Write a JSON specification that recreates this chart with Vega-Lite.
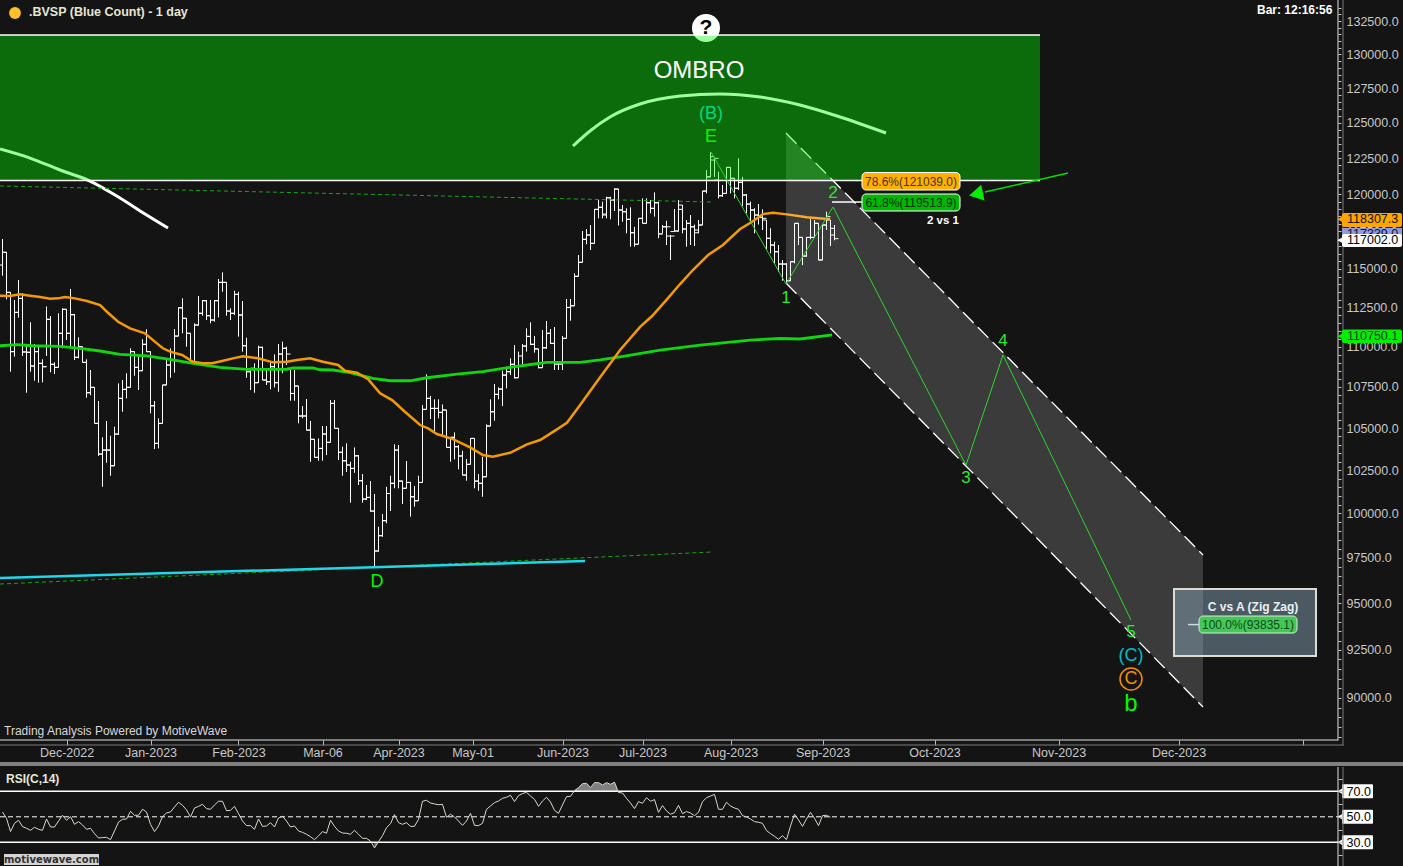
{"$schema":"https://vega.github.io/schema/vega-lite/v6.json","padding":0,"background":"#141414","spacing":0,"config":{"view":{"stroke":null},"font":"Liberation Sans"},
"datasets":{
"bars":[
{"s":0,"o":115256,"h":116980,"l":114554,"c":116095},{"s":1,"o":116100,"h":116100,"l":113020,"c":113470},{"s":2,"o":113470,"h":113470,"l":108440,"c":109690},{"s":3,"o":109690,"h":112975,"l":109370,"c":112180},{"s":4,"o":112180,"h":114270,"l":111840,"c":113080},{"s":5,"o":113080,"h":113410,"l":109420,"c":109670},{"s":6,"o":109670,"h":110100,"l":107145,"c":109650},{"s":7,"o":109650,"h":111545,"l":108440,"c":108790},{"s":8,"o":108790,"h":110170,"l":107880,"c":109690},{"s":9,"o":109690,"h":110100,"l":107760,"c":108960},
{"s":10,"o":108960,"h":109210,"l":107780,"c":108750},{"s":11,"o":108750,"h":112560,"l":109420,"c":111735},{"s":12,"o":111735,"h":111945,"l":108400,"c":108900},{"s":13,"o":108900,"h":109020,"l":108295,"c":108710},{"s":14,"o":108710,"h":112120,"l":108710,"c":110845},{"s":15,"o":110845,"h":112440,"l":109900,"c":112375},{"s":16,"o":112375,"h":112375,"l":110420,"c":110845},{"s":17,"o":110845,"h":113685,"l":109900,"c":112030},{"s":18,"o":112030,"h":112075,"l":109170,"c":109335},{"s":19,"o":109335,"h":110590,"l":109270,"c":110000},
{"s":20,"o":110000,"h":110000,"l":109020,"c":109020},{"s":21,"o":109020,"h":109210,"l":106840,"c":107145},{"s":22,"o":107145,"h":108545,"l":106990,"c":107475},{"s":23,"o":107475,"h":107475,"l":105285,"c":105285},{"s":24,"o":105285,"h":106640,"l":103350,"c":103455},{"s":25,"o":103455,"h":104450,"l":101540,"c":103690},{"s":26,"o":103690,"h":105425,"l":102940,"c":103690},{"s":27,"o":103690,"h":104540,"l":102180,"c":102765},{"s":28,"o":102765,"h":105085,"l":102750,"c":104645},{"s":29,"o":104645,"h":107720,"l":104585,"c":106800},
{"s":30,"o":106800,"h":107925,"l":105985,"c":107350},{"s":31,"o":107350,"h":108340,"l":106800,"c":107475},{"s":32,"o":107475,"h":109900,"l":107475,"c":109690},{"s":33,"o":109690,"h":109690,"l":108190,"c":108710},{"s":34,"o":108710,"h":109540,"l":107310,"c":108500},{"s":35,"o":108500,"h":110465,"l":108500,"c":110150},{"s":36,"o":110150,"h":111100,"l":109690,"c":109690},{"s":37,"o":109690,"h":109690,"l":105890,"c":106350},{"s":38,"o":106350,"h":106640,"l":103750,"c":104090},{"s":39,"o":104090,"h":105590,"l":103790,"c":105285},
{"s":40,"o":105285,"h":107620,"l":105285,"c":107620},{"s":41,"o":107620,"h":109170,"l":107620,"c":108855},{"s":42,"o":108855,"h":109900,"l":108065,"c":109170},{"s":43,"o":109170,"h":111115,"l":108380,"c":110670},{"s":44,"o":110670,"h":112495,"l":110670,"c":112470},{"s":45,"o":112470,"h":113080,"l":110845,"c":111800},{"s":46,"o":111800,"h":111800,"l":110000,"c":110845},{"s":47,"o":110845,"h":110845,"l":109060,"c":109060},{"s":48,"o":109060,"h":111480,"l":109060,"c":111370},{"s":49,"o":111370,"h":113230,"l":111330,"c":112120},
{"s":50,"o":112120,"h":112975,"l":111965,"c":112930},{"s":51,"o":112930,"h":112975,"l":111690,"c":111965},{"s":52,"o":111965,"h":112975,"l":111480,"c":111690},{"s":53,"o":111690,"h":112975,"l":111580,"c":112930},{"s":54,"o":112930,"h":114340,"l":111860,"c":114120},{"s":55,"o":114120,"h":114775,"l":113510,"c":114120},{"s":56,"o":114120,"h":114120,"l":111965,"c":112265},{"s":57,"o":112265,"h":112440,"l":111690,"c":112120},{"s":58,"o":112120,"h":113575,"l":112010,"c":113340},{"s":59,"o":113340,"h":113510,"l":110630,"c":112010},
{"s":60,"o":112010,"h":112910,"l":109690,"c":110060},{"s":61,"o":110060,"h":110565,"l":108065,"c":108440},{"s":62,"o":108440,"h":108650,"l":107310,"c":108650},{"s":63,"o":108650,"h":108960,"l":107145,"c":107760},{"s":64,"o":107760,"h":110060,"l":107760,"c":109960},{"s":65,"o":109960,"h":110000,"l":107925,"c":107925},{"s":66,"o":107925,"h":108650,"l":107620,"c":107820},{"s":67,"o":107820,"h":109060,"l":107350,"c":108750},{"s":68,"o":108750,"h":109520,"l":107475,"c":107760},{"s":69,"o":107760,"h":110170,"l":107205,"c":109540},
{"s":70,"o":109540,"h":110315,"l":108340,"c":109900},{"s":71,"o":109900,"h":110000,"l":108855,"c":109540},{"s":72,"o":108650,"h":108650,"l":106655,"c":107100},{"s":73,"o":107100,"h":108545,"l":106655,"c":107555},{"s":74,"o":107555,"h":107555,"l":105285,"c":105730},{"s":75,"o":105730,"h":106330,"l":105590,"c":105730},{"s":76,"o":105730,"h":106760,"l":104880,"c":104880},{"s":77,"o":104880,"h":105425,"l":103000,"c":104330},{"s":78,"o":104330,"h":104330,"l":103260,"c":103260},{"s":79,"o":103260,"h":104385,"l":103060,"c":103790},
{"s":80,"o":103790,"h":105125,"l":103060,"c":104645},{"s":81,"o":104645,"h":105125,"l":103395,"c":104150},{"s":82,"o":104150,"h":106700,"l":104150,"c":106495},{"s":83,"o":106495,"h":106700,"l":104985,"c":104985},{"s":84,"o":104985,"h":104985,"l":103100,"c":103560},{"s":85,"o":103560,"h":103890,"l":102180,"c":103060},{"s":86,"o":103060,"h":104090,"l":102400,"c":102810},{"s":87,"o":102810,"h":103000,"l":100620,"c":102610},{"s":88,"o":102610,"h":103850,"l":102350,"c":103350},{"s":89,"o":103350,"h":103395,"l":101640,"c":101890},
{"s":90,"o":101890,"h":102280,"l":100620,"c":100830},{"s":91,"o":100830,"h":101640,"l":100770,"c":100925},{"s":92,"o":100925,"h":101870,"l":100100,"c":100140},{"s":93,"o":100140,"h":101120,"l":97000,"c":97880},{"s":94,"o":97880,"h":99245,"l":97840,"c":98740},{"s":95,"o":98740,"h":99970,"l":98680,"c":99590},{"s":96,"o":99590,"h":101540,"l":99440,"c":101150},{"s":97,"o":101150,"h":102180,"l":100140,"c":101740},{"s":98,"o":101740,"h":104030,"l":101450,"c":103690},{"s":99,"o":103690,"h":103990,"l":101450,"c":101870},
{"s":100,"o":101870,"h":101890,"l":100540,"c":101450},{"s":101,"o":101450,"h":103040,"l":101450,"c":101790},{"s":102,"o":101790,"h":101830,"l":99820,"c":100960},{"s":103,"o":100960,"h":101580,"l":100390,"c":100730},{"s":104,"o":100730,"h":102180,"l":100730,"c":101790},{"s":105,"o":101790,"h":106390,"l":101790,"c":106130},{"s":106,"o":106130,"h":108280,"l":106130,"c":106800},{"s":107,"o":106800,"h":106950,"l":105550,"c":106190},{"s":108,"o":106190,"h":106740,"l":104825,"c":106190},{"s":109,"o":106190,"h":106740,"l":105590,"c":105950},
{"s":110,"o":105950,"h":106430,"l":104525,"c":106090},{"s":111,"o":106090,"h":106090,"l":103850,"c":103850},{"s":112,"o":103850,"h":104450,"l":103000,"c":104450},{"s":113,"o":104450,"h":104745,"l":103140,"c":103890},{"s":114,"o":103890,"h":103990,"l":102555,"c":103340},{"s":115,"o":103340,"h":103650,"l":102220,"c":102220},{"s":116,"o":102220,"h":103160,"l":101890,"c":102850},{"s":117,"o":102850,"h":104385,"l":102850,"c":104385},{"s":118,"o":104385,"h":104385,"l":101450,"c":101870},{"s":119,"o":101870,"h":102280,"l":101310,"c":101740},
{"s":120,"o":101740,"h":103300,"l":100960,"c":102120},{"s":121,"o":102120,"h":105225,"l":102120,"c":105125},{"s":122,"o":105125,"h":106740,"l":105125,"c":105985},{"s":123,"o":105985,"h":107680,"l":105440,"c":107045},{"s":124,"o":107045,"h":107475,"l":106740,"c":107370},{"s":125,"o":107370,"h":108500,"l":106330,"c":108230},{"s":126,"o":108230,"h":108750,"l":107410,"c":108440},{"s":127,"o":108440,"h":109270,"l":108230,"c":108900},{"s":128,"o":108900,"h":110100,"l":108020,"c":108065},{"s":129,"o":108065,"h":109690,"l":108090,"c":108820},
{"s":130,"o":109420,"h":110170,"l":108900,"c":110040},{"s":131,"o":110040,"h":111160,"l":109690,"c":110650},{"s":132,"o":110650,"h":111545,"l":110100,"c":110150},{"s":133,"o":110150,"h":110680,"l":109625,"c":109860},{"s":134,"o":109860,"h":109860,"l":108650,"c":108690},{"s":135,"o":108690,"h":111054,"l":108690,"c":109930},{"s":136,"o":109930,"h":111625,"l":109860,"c":110845},{"s":137,"o":110845,"h":111115,"l":110170,"c":110210},{"s":138,"o":110210,"h":111245,"l":108545,"c":108920},{"s":139,"o":108920,"h":109105,"l":108545,"c":108920},
{"s":140,"o":108920,"h":110670,"l":108545,"c":110525},{"s":141,"o":110525,"h":113040,"l":110525,"c":112495},{"s":142,"o":112495,"h":113040,"l":111645,"c":112600},{"s":143,"o":112600,"h":114710,"l":112600,"c":114515},{"s":144,"o":114515,"h":115915,"l":114515,"c":115435},{"s":145,"o":115435,"h":117515,"l":115435,"c":116960},{"s":146,"o":116960,"h":117650,"l":116630,"c":117250},{"s":147,"o":117250,"h":117920,"l":116250,"c":116690},{"s":148,"o":116690,"h":119000,"l":116690,"c":118980},{"s":149,"o":118980,"h":119616,"l":118370,"c":119120},
{"s":150,"o":119120,"h":119500,"l":118370,"c":118660},{"s":151,"o":118595,"h":119840,"l":118370,"c":119770},{"s":152,"o":119770,"h":119840,"l":118305,"c":119616},{"s":153,"o":119616,"h":120420,"l":118870,"c":120370},{"s":154,"o":120370,"h":120370,"l":117885,"c":118936},{"s":155,"o":118936,"h":119275,"l":118140,"c":118820},{"s":156,"o":118820,"h":119050,"l":117360,"c":118305},{"s":157,"o":118305,"h":119120,"l":116470,"c":117400},{"s":158,"o":117400,"h":117800,"l":116470,"c":116630},{"s":159,"o":116630,"h":118370,"l":116630,"c":118370},
{"s":160,"o":118370,"h":119730,"l":118035,"c":118035},{"s":161,"o":118035,"h":119730,"l":118035,"c":119430},{"s":162,"o":119430,"h":119616,"l":118710,"c":119050},{"s":163,"o":119050,"h":120140,"l":118485,"c":119430},{"s":164,"o":119430,"h":119500,"l":117030,"c":117320},{"s":165,"o":117320,"h":117920,"l":117360,"c":117800},{"s":166,"o":117800,"h":118210,"l":116580,"c":117800},{"s":167,"o":117180,"h":117250,"l":115586,"c":117180},{"s":168,"o":117480,"h":119000,"l":117480,"c":117515},{"s":169,"o":117515,"h":119616,"l":117480,"c":119275},
{"s":170,"o":118980,"h":119275,"l":117360,"c":117650},{"s":171,"o":117650,"h":118258,"l":116470,"c":118035},{"s":172,"o":118035,"h":118595,"l":116580,"c":117800},{"s":173,"o":117800,"h":117950,"l":116515,"c":117400},{"s":174,"o":117584,"h":118258,"l":117360,"c":117920},{"s":175,"o":117920,"h":120230,"l":117920,"c":120230},{"s":176,"o":120230,"h":121685,"l":120070,"c":121210},{"s":177,"o":121210,"h":122920,"l":121210,"c":122615},{"s":178,"o":122382,"h":122500,"l":121210,"c":122500},{"s":179,"o":120991,"h":121570,"l":119730,"c":119910},
{"s":180,"o":119910,"h":120645,"l":119840,"c":120070},{"s":181,"o":120070,"h":121870,"l":120070,"c":121870},{"s":182,"o":121870,"h":121870,"l":120070,"c":121110},{"s":183,"o":121110,"h":121110,"l":119730,"c":120420},{"s":184,"o":120420,"h":122500,"l":120302,"c":120830},{"s":185,"o":120830,"h":121210,"l":119205,"c":119960},{"s":186,"o":119960,"h":120030,"l":118710,"c":119340},{"s":187,"o":119340,"h":119500,"l":118035,"c":118936},{"s":188,"o":118936,"h":119050,"l":117360,"c":118595},{"s":189,"o":118595,"h":119340,"l":117950,"c":118440},
{"s":190,"o":118440,"h":118980,"l":117584,"c":118370},{"s":191,"o":118258,"h":118258,"l":116248,"c":117030},{"s":192,"o":117030,"h":117700,"l":116025,"c":116580},{"s":193,"o":116580,"h":116800,"l":115370,"c":116135},{"s":194,"o":116135,"h":116580,"l":114815,"c":115320},{"s":195,"o":115320,"h":115586,"l":114225,"c":115320},{"s":196,"o":115320,"h":115370,"l":114050,"c":114225},{"s":197,"o":114225,"h":115475,"l":114225,"c":115475},{"s":198,"o":115475,"h":118035,"l":115370,"c":118035},{"s":199,"o":118035,"h":118035,"l":116580,"c":117090},
{"s":200,"o":117090,"h":117090,"l":115250,"c":115850},{"s":201,"o":115850,"h":117090,"l":115805,"c":117090},{"s":202,"o":117090,"h":118370,"l":116960,"c":117090},{"s":203,"o":117090,"h":118258,"l":117090,"c":118035},{"s":204,"o":118035,"h":118035,"l":115586,"c":115586},{"s":205,"o":115586,"h":117920,"l":115586,"c":117920},{"s":206,"o":117920,"h":118820,"l":117584,"c":118485},{"s":207,"o":118258,"h":118258,"l":116515,"c":117700},{"s":208,"o":117250,"h":117920,"l":116900,"c":117002}],
"ma50":[{"s":-0.625,"p":113250},{"s":1.9,"p":113230},{"s":4.4,"p":113340},{"s":6.9,"p":113250},{"s":9.4,"p":113170},{"s":11.9,"p":113060},{"s":13.9,"p":113080},{"s":15.6,"p":113170},{"s":18.1,"p":113080},{"s":21.1,"p":112910},{"s":24.4,"p":112650},{"s":26.1,"p":112220},{"s":28.9,"p":111580},{"s":31.9,"p":111160},{"s":35.6,"p":110845},{"s":38.6,"p":110210},{"s":40.1,"p":109900},{"s":41.9,"p":109690},{"s":44.9,"p":109480},{"s":47.6,"p":109060},{"s":50.1,"p":108960},{"s":52.4,"p":108960},{"s":54.9,"p":109105},{"s":57.6,"p":109270},{"s":60.1,"p":109400},{"s":63.9,"p":109270},{"s":67.6,"p":109020},{"s":71.1,"p":109060},{"s":73.6,"p":109170},{"s":76.9,"p":109270},{"s":80.1,"p":109060},{"s":83.9,"p":108855},{"s":85.6,"p":108500},{"s":88.6,"p":108380},{"s":91.4,"p":107970},{"s":94.4,"p":107105},{"s":97.4,"p":106698},{"s":100.6,"p":105985},{"s":104.4,"p":105185},{"s":106.4,"p":104985},{"s":108.6,"p":104645},{"s":112.6,"p":104345},{"s":116.9,"p":103850},{"s":120.1,"p":103395},{"s":122.6,"p":103300},{"s":126.9,"p":103530},{"s":131.1,"p":104030},{"s":134.4,"p":104287},{"s":138.6,"p":104925},{"s":141.1,"p":105320},{"s":144.4,"p":106390},{"s":149.4,"p":108090},{"s":154.4,"p":109790},{"s":159.4,"p":111250},{"s":162.4,"p":111945},{"s":166.1,"p":113020},{"s":169.4,"p":114010},{"s":172.6,"p":114927},{"s":176.4,"p":115915},{"s":180.1,"p":116580},{"s":184.4,"p":117650},{"s":187.4,"p":118140},{"s":190.1,"p":118660},{"s":192.6,"p":118750},{"s":196.1,"p":118640},{"s":201.1,"p":118440},{"s":206.9,"p":118307}],
"ma200":[{"s":-0.625,"p":110060},{"s":3.6,"p":110125},{"s":7.6,"p":110060},{"s":14.4,"p":110020},{"s":19.4,"p":109900},{"s":24.4,"p":109730},{"s":29.4,"p":109520},{"s":36.1,"p":109420},{"s":42.6,"p":109170},{"s":47.6,"p":108960},{"s":54.4,"p":108710},{"s":61.1,"p":108590},{"s":71.1,"p":108590},{"s":72.6,"p":108670},{"s":77.6,"p":108670},{"s":79.4,"p":108560},{"s":82.6,"p":108544},{"s":86.9,"p":108380},{"s":87.6,"p":108340},{"s":92.6,"p":108030},{"s":96.9,"p":107880},{"s":101.9,"p":107880},{"s":106.1,"p":108065},{"s":113.6,"p":108295},{"s":120.1,"p":108440},{"s":125.1,"p":108650},{"s":131.1,"p":108855},{"s":136.1,"p":109020},{"s":144.4,"p":109020},{"s":149.4,"p":109170},{"s":154.4,"p":109360},{"s":164.4,"p":109790},{"s":174.4,"p":110100},{"s":186.9,"p":110420},{"s":194.4,"p":110515},{"s":199.4,"p":110485},{"s":207.4,"p":110750}],
"arcs":[{"a":"top","s":142.625,"p":123365},{"a":"top","s":146.875,"p":124430},{"a":"top","s":151.875,"p":125430},{"a":"top","s":159.375,"p":126360},{"a":"top","s":169.375,"p":126940},{"a":"top","s":179.375,"p":127090},{"a":"top","s":189.375,"p":126870},{"a":"top","s":199.375,"p":126290},{"a":"top","s":209.375,"p":125430},{"a":"top","s":220.875,"p":124285},{"a":"left","s":-0.625,"p":123155},{"a":"left","s":6.875,"p":122520},{"a":"left","s":14.375,"p":121685},{"a":"left","s":21.875,"p":120920},{"a":"left","s":29.375,"p":119755},{"a":"left","s":35.625,"p":118665},{"a":"left","s":41.375,"p":117718}],
"channel":[{"s":195.875,"p":124285,"p2":114076},{"s":300.125,"p":97656,"p2":89530}],
"edges":[{"e":"upper","s":195.875,"p":124285},{"e":"upper","s":300.125,"p":97656},{"e":"lower","s":195.875,"p":114076},{"e":"lower","s":300.125,"p":89530}],
"wave":[{"s":177.125,"p":122945},{"s":195.875,"p":114010},{"s":207.625,"p":119140},{"s":240.875,"p":102805},{"s":250.125,"p":109480},{"s":282.125,"p":94093}],
"trend":[{"t":"upper","s":-0.625,"p":120580},{"t":"upper","s":177.125,"p":119480},{"t":"lower","s":-0.625,"p":96050},{"t":"lower","s":177.125,"p":97820}],
"majors":[{"p":90000},{"p":92500},{"p":95000},{"p":97500},{"p":100000},{"p":102500},{"p":105000},{"p":107500},{"p":110000},{"p":112500},{"p":115000},{"p":117500},{"p":120000},{"p":122500},{"p":125000},{"p":127500},{"p":130000},{"p":132500}]
},
"vconcat":[
{"width":1338,"height":740,
"encoding":{"x":{"field":"s","type":"quantitative","scale":{"domain":[-0.625,333.875],"nice":false,"zero":false},"axis":{"title":null,"grid":false,"domain":false,"values":[16,37,59,80,99,117.5,140,160,182,205,233,264,294,325],"labelExpr":"({'16':'Dec-2022','37':'Jan-2023','59':'Feb-2023','80':'Mar-06','99':'Apr-2023','117.5':'May-01','140':'Jun-2023','160':'Jul-2023','182':'Aug-2023','205':'Sep-2023','233':'Oct-2023','264':'Nov-2023','294':'Dec-2023','325':''})[datum.value]","tickSize":5,"tickColor":"#c0c0c0","labelColor":"#c8c8c8","labelFontSize":12.5,"labelPadding":1,"labelOverlap":false,"labelFlush":false,"labelBound":false}},
"y":{"field":"p","type":"quantitative","scale":{"type":"log","domain":[87860,134100],"nice":false},"axis":{"title":null,"orient":"right","grid":false,"domain":false,"values":[88000,88500,89000,89500,90000,90500,91000,91500,92000,92500,93000,93500,94000,94500,95000,95500,96000,96500,97000,97500,98000,98500,99000,99500,100000,100500,101000,101500,102000,102500,103000,103500,104000,104500,105000,105500,106000,106500,107000,107500,108000,108500,109000,109500,110000,110500,111000,111500,112000,112500,113000,113500,114000,114500,115000,115500,116000,116500,117000,117500,118000,118500,119000,119500,120000,120500,121000,121500,122000,122500,123000,123500,124000,124500,125000,125500,126000,126500,127000,127500,128000,128500,129000,129500,130000,130500,131000,131500,132000,132500,133000,133500],"labelExpr":"datum.value % 2500 == 0 ? format(datum.value,'.1f') : ''","tickSize":3,"tickColor":"#c0c0c0","labelColor":"#c8c8c8","labelFontSize":12.5,"labelPadding":5,"labelOverlap":false,"labelFlush":false,"labelBound":false}}},
"layer":[
{"data":{"values":[{"s":175.875,"p":131970}]},"mark":{"type":"point","shape":"circle","filled":true,"color":"#ffffff","opacity":1,"size":784}},
{"data":{"name":"bars"},"transform":[{"fold":["h"],"as":["k","p"]}],"mark":{"type":"rule","color":"#ffffff","strokeWidth":1},"encoding":{"y2":{"field":"l"}}},
{"data":{"name":"bars"},"transform":[{"fold":["o"],"as":["k","p"]}],"mark":{"type":"tick","orient":"horizontal","color":"#ffffff","opacity":1,"size":4,"thickness":1,"xOffset":-2,"clip":true}},
{"data":{"name":"bars"},"transform":[{"fold":["c"],"as":["k","p"]}],"mark":{"type":"tick","orient":"horizontal","color":"#ffffff","opacity":1,"size":4,"thickness":1,"xOffset":2}},
{"data":{"name":"ma200"},"mark":{"type":"line","color":"#0fd60f","strokeWidth":2.8,"clip":true}},
{"data":{"name":"ma50"},"mark":{"type":"line","color":"#f59a00","strokeWidth":2.5,"clip":true}},
{"data":{"name":"arcs"},"mark":{"type":"line","color":"#ffffff","strokeWidth":3,"interpolate":"monotone","clip":true},"encoding":{"detail":{"field":"a"}}},
{"data":{"name":"trend"},"mark":{"type":"line","color":"#10a810","strokeWidth":1,"strokeDash":[4,3],"clip":true},"encoding":{"detail":{"field":"t"}}},
{"data":{"values":[{"s":-0.625,"p":96380},{"s":145.625,"p":97320}]},"mark":{"type":"line","color":"#1cd8e8","strokeWidth":2.5,"clip":true}},
{"data":{"name":"channel"},"mark":{"type":"area","color":"#ffffff","opacity":0.17,"orient":"vertical"},"encoding":{"y2":{"field":"p2"}}},
{"data":{"name":"edges"},"mark":{"type":"line","color":"#ffffff","strokeWidth":1.3,"strokeDash":[15,6]},"encoding":{"detail":{"field":"e"}}},
{"data":{"values":[{"s":-0.625,"s2":259.375,"p":131445,"p2":120950}]},"mark":{"type":"rect","color":"#00ff00","opacity":0.375},"encoding":{"x2":{"field":"s2"},"y2":{"field":"p2"}}},
{"data":{"values":[{"s":-0.625,"s2":259.375,"p":131445},{"s":-0.625,"s2":259.375,"p":120950}]},"mark":{"type":"rule","color":"#ffffff","strokeWidth":1.5,"clip":true},"encoding":{"x2":{"field":"s2"}}},
{"data":{"name":"wave"},"mark":{"type":"line","color":"#2cd62c","strokeWidth":1}},
{"data":{"values":[{"s":266.375,"p":121480},{"s":245.625,"p":120160}]},"mark":{"type":"line","color":"#00e000","strokeWidth":1.5}},
{"data":{"values":[{"s":243.375,"p":120030}]},"mark":{"type":"point","shape":"triangle-left","filled":true,"color":"#00f000","opacity":1,"size":260,"angle":-12}},
{"data":{"values":[{"s":207.375,"s2":214.875,"p":119480},{"s":296.375,"s2":299.125,"p":93850}]},"mark":{"type":"rule","color":"#ffffff","strokeWidth":1.5},"encoding":{"x2":{"field":"s2"}}},
{"data":{"values":[{"s":214.875,"s2":239.375,"p":121510,"p2":120302}]},"mark":{"type":"rect","fill":"#ffb000","stroke":"#ffffff","strokeWidth":1,"opacity":1,"cornerRadius":4},"encoding":{"x2":{"field":"s2"},"y2":{"field":"p2"}}},
{"data":{"values":[{"s":214.875,"s2":239.375,"p":120028,"p2":118868}]},"mark":{"type":"rect","fill":"#00b800","stroke":"#ffffff","strokeWidth":1,"opacity":1,"cornerRadius":4},"encoding":{"x2":{"field":"s2"},"y2":{"field":"p2"}}},
{"data":{"values":[{"s":227.125,"p":120880,"t":"78.6%(121039.0)"}]},"mark":{"type":"text","color":"#4a3000","fontSize":12},"encoding":{"text":{"field":"t"}}},
{"data":{"values":[{"s":227.125,"p":119440,"t":"61.8%(119513.9)"}]},"mark":{"type":"text","color":"#003000","fontSize":12},"encoding":{"text":{"field":"t"}}},
{"data":{"values":[{"s":235.125,"p":118190,"t":"2 vs 1"}]},"mark":{"type":"text","color":"#ffffff","fontSize":11.5,"fontWeight":"bold"},"encoding":{"text":{"field":"t"}}},
{"data":{"values":[{"s":292.875,"s2":328.375,"p":95775,"p2":92178}]},"mark":{"type":"rect","fill":"#8fb0c0","fillOpacity":0.45,"stroke":"#dcdcd0","strokeWidth":2},"encoding":{"x2":{"field":"s2"},"y2":{"field":"p2"}}},
{"data":{"values":[{"s":299.125,"s2":323.625,"p":94310,"p2":93397}]},"mark":{"type":"rect","fill":"#44c855","stroke":"#dde8dd","strokeWidth":1,"opacity":1,"cornerRadius":4},"encoding":{"x2":{"field":"s2"},"y2":{"field":"p2"}}},
{"data":{"values":[{"s":312.625,"p":94794,"t":"C vs A (Zig Zag)"}]},"mark":{"type":"text","color":"#e8f0f0","fontSize":12,"fontWeight":"bold"},"encoding":{"text":{"field":"t"}}},
{"data":{"values":[{"s":311.375,"p":93850,"t":"100.0%(93835.1)"}]},"mark":{"type":"text","color":"#104a20","fontSize":12},"encoding":{"text":{"field":"t"}}},
{"data":{"values":[{"s":175.875,"p":131970,"t":"?"}]},"mark":{"type":"text","color":"#000000","fontSize":21,"fontWeight":"bold"},"encoding":{"text":{"field":"t"}}},
{"data":{"values":[{"s":174.125,"p":128770,"t":"OMBRO"}]},"mark":{"type":"text","color":"#ffffff","fontSize":24},"encoding":{"text":{"field":"t"}}},
{"data":{"values":[{"s":177.125,"p":125645,"t":"(B)"}]},"mark":{"type":"text","color":"#00d880","fontSize":18},"encoding":{"text":{"field":"t"}}},
{"data":{"values":[{"s":177.125,"p":124000,"t":"E"},{"s":93.625,"p":96160,"t":"D"}]},"mark":{"type":"text","color":"#00f800","fontSize":18},"encoding":{"text":{"field":"t"}}},
{"data":{"values":[{"s":195.875,"p":113100,"t":"1"},{"s":207.625,"p":120100,"t":"2"},{"s":240.875,"p":102045,"t":"3"},{"s":250.125,"p":110355,"t":"4"},{"s":282.125,"p":93450,"t":"5"}]},"mark":{"type":"text","color":"#2ee82e","fontSize":17},"encoding":{"text":{"field":"t"}}},
{"data":{"values":[{"s":282.125,"p":92178,"t":"(C)"}]},"mark":{"type":"text","color":"#00bcc4","fontSize":18},"encoding":{"text":{"field":"t"}}},
{"data":{"values":[{"s":282.125,"p":90977}]},"mark":{"type":"point","shape":"circle","color":"#f09000","opacity":1,"strokeWidth":1.5,"size":484}},
{"data":{"values":[{"s":282.125,"p":90977,"t":"C"}]},"mark":{"type":"text","color":"#f09000","fontSize":18},"encoding":{"text":{"field":"t"}}},
{"data":{"values":[{"s":282.125,"p":89700,"t":"b"}]},"mark":{"type":"text","color":"#00f800","fontSize":24},"encoding":{"text":{"field":"t"}}},
{"data":{"values":[{"s":3.125,"p":133105}]},"mark":{"type":"point","shape":"circle","filled":true,"color":"#ffc02a","opacity":1,"size":140}},
{"data":{"values":[{"s":6.625,"p":133180,"t":".BVSP (Blue Count) - 1 day"}]},"mark":{"type":"text","align":"left","color":"#e6e6d0","fontSize":12.5,"fontWeight":"bold"},"encoding":{"text":{"field":"t"}}},
{"data":{"values":[{"s":313.625,"p":133340,"t":"Bar: 12:16:56"}]},"mark":{"type":"text","align":"left","color":"#ffffff","fontSize":12,"fontWeight":"bold"},"encoding":{"text":{"field":"t"}}},
{"data":{"values":[{"s":0.375,"p":88310,"t":"Trading Analysis Powered by MotiveWave"}]},"mark":{"type":"text","align":"left","color":"#d8d8d8","fontSize":12},"encoding":{"text":{"field":"t"}}},
{"data":{"name":"majors"},"mark":{"type":"tick","orient":"horizontal","color":"#c0c0c0","opacity":1,"size":5,"thickness":1,"xOffset":3},"encoding":{"x":{"datum":333.875}}},
{"data":{"values":[{"s":-0.625,"s2":333.875,"p":87885,"p2":87835}]},"mark":{"type":"rect","color":"#e0e0e0","opacity":1},"encoding":{"x2":{"field":"s2"},"y2":{"field":"p2"}}},
{"data":{"values":[{"s":333.75,"s2":334,"p":134100,"p2":87835}]},"mark":{"type":"rect","color":"#e0e0e0","opacity":1},"encoding":{"x2":{"field":"s2"},"y2":{"field":"p2"}}},
{"data":{"values":[{"s":-0.625,"s2":335.25,"p":87635,"p2":87585},{"s":335,"s2":335.25,"p":134100,"p2":87585}]},"mark":{"type":"rect","color":"#7a7a7a","opacity":1},"encoding":{"x2":{"field":"s2"},"y2":{"field":"p2"}}},
{"data":{"values":[{"s":-0.625,"s2":350.125,"p":86761,"p2":86564}]},"mark":{"type":"rect","color":"#808080","opacity":1},"encoding":{"x2":{"field":"s2"},"y2":{"field":"p2"}}},
{"data":{"values":[{"s":334.875,"s2":349.875,"p":117720,"p2":117175}]},"mark":{"type":"rect","color":"#8f9be0","opacity":1},"encoding":{"x2":{"field":"s2"},"y2":{"field":"p2"}}},
{"data":{"values":[{"s":336.125,"p":117330,"t":"117339.0"}]},"mark":{"type":"text","align":"left","color":"#101030","fontSize":12.5},"encoding":{"text":{"field":"t"}}},
{"data":{"values":[{"s":334.875,"s2":349.875,"p":118730,"p2":117785}]},"mark":{"type":"rect","color":"#ffa500","opacity":1,"cornerRadius":2},"encoding":{"x2":{"field":"s2"},"y2":{"field":"p2"}}},
{"data":{"values":[{"s":334.875,"p":118307}]},"mark":{"type":"point","shape":"triangle-left","filled":true,"color":"#ffa500","opacity":1,"size":110}},
{"data":{"values":[{"s":336.125,"p":118307,"t":"118307.3"}]},"mark":{"type":"text","align":"left","color":"#101000","fontSize":12.5},"encoding":{"text":{"field":"t"}}},
{"data":{"values":[{"s":334.875,"s2":349.875,"p":117310,"p2":116450}]},"mark":{"type":"rect","color":"#ffffff","opacity":1,"cornerRadius":2},"encoding":{"x2":{"field":"s2"},"y2":{"field":"p2"}}},
{"data":{"values":[{"s":334.875,"p":116900}]},"mark":{"type":"point","shape":"triangle-left","filled":true,"color":"#ffffff","opacity":1,"size":110}},
{"data":{"values":[{"s":336.125,"p":116900,"t":"117002.0"}]},"mark":{"type":"text","align":"left","color":"#000000","fontSize":12.5},"encoding":{"text":{"field":"t"}}},
{"data":{"values":[{"s":334.875,"s2":349.875,"p":111090,"p2":110240}]},"mark":{"type":"rect","color":"#00f000","opacity":1,"cornerRadius":2},"encoding":{"x2":{"field":"s2"},"y2":{"field":"p2"}}},
{"data":{"values":[{"s":334.875,"p":110660}]},"mark":{"type":"point","shape":"triangle-left","filled":true,"color":"#00f000","opacity":1,"size":110}},
{"data":{"values":[{"s":336.125,"p":110660,"t":"110750.1"}]},"mark":{"type":"text","align":"left","color":"#003000","fontSize":12.5},"encoding":{"text":{"field":"t"}}}
]},
{"width":1338,"height":100,
"encoding":{"x":{"field":"s","type":"quantitative","scale":{"domain":[-0.625,333.875],"nice":false,"zero":false},"axis":null},
"y":{"field":"r","type":"quantitative","scale":{"domain":[10.63,89.06],"nice":false,"zero":false},"axis":{"title":null,"orient":"right","grid":false,"domain":false,"zindex":1,"values":[20,30,40,50,60,70,80],"labelExpr":"datum.value == 30 || datum.value == 50 || datum.value == 70 ? format(datum.value,'.1f') : ''","tickSize":4,"tickColor":"#c0c0c0","labelColor":"#000000","labelFontSize":12.5,"labelPadding":4,"labelOverlap":false,"labelFlush":false,"labelBound":false}}},
"layer":[
{"data":{"values":[{"s":142.8,"r":70},{"s":143,"r":70.5},{"s":144,"r":72.9},{"s":145,"r":76},{"s":146,"r":76.3},{"s":147,"r":72.9},{"s":148,"r":76.8},{"s":149,"r":76.8},{"s":150,"r":75},{"s":151,"r":76.8},{"s":152,"r":75.5},{"s":153,"r":77.1},{"s":153.9,"r":70}]},"mark":{"type":"area","color":"#808080","opacity":1,"orient":"vertical"},"encoding":{"y2":{"datum":70}}},
{"data":{"values":[{"s":92.8,"r":30},{"s":93,"r":25.6},{"s":93.9,"r":30}]},"mark":{"type":"area","color":"#6e5f6a","opacity":1,"orient":"vertical"},"encoding":{"y2":{"datum":30}}},
{"data":{"values":[{"s":-0.625,"s2":333.875,"r":70},{"s":-0.625,"s2":333.875,"r":30}]},"mark":{"type":"rule","color":"#ffffff","strokeWidth":1.5,"clip":true},"encoding":{"x2":{"field":"s2"}}},
{"data":{"values":[{"s":-0.625,"s2":333.875,"r":50}]},"mark":{"type":"rule","color":"#ffffff","strokeWidth":1,"strokeDash":[5,3],"clip":true},"encoding":{"x2":{"field":"s2"}}},
{"data":{"values":[{"s":0,"r":53.8},{"s":1,"r":48.8},{"s":2,"r":38.4},{"s":3,"r":44.9},{"s":4,"r":47.3},{"s":5,"r":42.3},{"s":6,"r":41},{"s":7,"r":39.4},{"s":8,"r":41.8},{"s":9,"r":40.2},{"s":10,"r":39.4},{"s":11,"r":48.3},{"s":12,"r":42},{"s":13,"r":42},{"s":14,"r":46.7},{"s":15,"r":51.2},{"s":16,"r":47.3},{"s":17,"r":50.1},{"s":18,"r":44.1},{"s":19,"r":46.2},{"s":20,"r":43.6},{"s":21,"r":40.2},{"s":22,"r":41},{"s":23,"r":36.8},{"s":24,"r":33.4},{"s":25,"r":33.7},{"s":26,"r":33.9},{"s":27,"r":32.1},{"s":28,"r":38.9},{"s":29,"r":45.9},{"s":30,"r":48},{"s":31,"r":48.3},{"s":32,"r":54.3},{"s":33,"r":51.2},{"s":34,"r":51.2},{"s":35,"r":55.9},{"s":36,"r":53.8},{"s":37,"r":44.1},{"s":38,"r":38.4},{"s":39,"r":42.8},{"s":40,"r":50.1},{"s":41,"r":53},{"s":42,"r":53.8},{"s":43,"r":57.7},{"s":44,"r":61.4},{"s":45,"r":59},{"s":46,"r":55.4},{"s":47,"r":49.9},{"s":48,"r":56.9},{"s":49,"r":58.2},{"s":50,"r":59.8},{"s":51,"r":56.4},{"s":52,"r":55.9},{"s":53,"r":59.3},{"s":54,"r":62.2},{"s":55,"r":62.2},{"s":56,"r":54.8},{"s":57,"r":55.1},{"s":58,"r":58.2},{"s":59,"r":52.5},{"s":60,"r":46.7},{"s":61,"r":43.1},{"s":62,"r":43.1},{"s":63,"r":40.2},{"s":64,"r":48.3},{"s":65,"r":42.5},{"s":66,"r":42.8},{"s":67,"r":45.4},{"s":68,"r":42},{"s":69,"r":49.1},{"s":70,"r":50.4},{"s":71,"r":46.7},{"s":72,"r":42},{"s":73,"r":42.8},{"s":74,"r":38.9},{"s":75,"r":37.8},{"s":76,"r":36.3},{"s":77,"r":34.4},{"s":78,"r":32.1},{"s":79,"r":35},{"s":80,"r":38.4},{"s":81,"r":37.1},{"s":82,"r":47.3},{"s":83,"r":42.5},{"s":84,"r":38.9},{"s":85,"r":37.3},{"s":86,"r":37.1},{"s":87,"r":36.3},{"s":88,"r":39.4},{"s":89,"r":36.3},{"s":90,"r":33.1},{"s":91,"r":33.1},{"s":92,"r":31},{"s":93,"r":25.6},{"s":94,"r":30.5},{"s":95,"r":35.2},{"s":96,"r":41.5},{"s":97,"r":44.6},{"s":98,"r":51.7},{"s":99,"r":45.4},{"s":100,"r":44.1},{"s":101,"r":45.4},{"s":102,"r":42.5},{"s":103,"r":42.5},{"s":104,"r":48},{"s":105,"r":62.2},{"s":106,"r":62.9},{"s":107,"r":60.8},{"s":108,"r":60.1},{"s":109,"r":59.5},{"s":110,"r":59.8},{"s":111,"r":49.6},{"s":112,"r":52},{"s":113,"r":49.9},{"s":114,"r":46.7},{"s":115,"r":43.3},{"s":116,"r":46.7},{"s":117,"r":52.7},{"s":118,"r":43.3},{"s":119,"r":43.1},{"s":120,"r":44.9},{"s":121,"r":55.9},{"s":122,"r":58.5},{"s":123,"r":61.1},{"s":124,"r":62.4},{"s":125,"r":64.5},{"s":126,"r":65.3},{"s":127,"r":66.9},{"s":128,"r":61.9},{"s":129,"r":66.6},{"s":130,"r":68.2},{"s":131,"r":69.2},{"s":132,"r":66.3},{"s":133,"r":63.7},{"s":134,"r":58.2},{"s":135,"r":62.4},{"s":136,"r":65.3},{"s":137,"r":61.6},{"s":138,"r":55.1},{"s":139,"r":52.7},{"s":140,"r":59.3},{"s":141,"r":65.8},{"s":142,"r":66.1},{"s":143,"r":70.5},{"s":144,"r":72.9},{"s":145,"r":76},{"s":146,"r":76.3},{"s":147,"r":72.9},{"s":148,"r":76.8},{"s":149,"r":76.8},{"s":150,"r":75},{"s":151,"r":76.8},{"s":152,"r":75.5},{"s":153,"r":77.1},{"s":154,"r":69},{"s":155,"r":68.7},{"s":156,"r":64.5},{"s":157,"r":60.8},{"s":158,"r":56.4},{"s":159,"r":61.9},{"s":160,"r":60.6},{"s":161,"r":65},{"s":162,"r":62.2},{"s":163,"r":63.5},{"s":164,"r":53.5},{"s":165,"r":58.8},{"s":166,"r":54.6},{"s":167,"r":52},{"s":168,"r":53.3},{"s":169,"r":59},{"s":170,"r":52.5},{"s":171,"r":54.1},{"s":172,"r":53},{"s":173,"r":50.9},{"s":174,"r":53.5},{"s":175,"r":61.9},{"s":176,"r":65},{"s":177,"r":66.3},{"s":178,"r":67.6},{"s":179,"r":55.9},{"s":180,"r":55.9},{"s":181,"r":61.4},{"s":182,"r":58.5},{"s":183,"r":56.9},{"s":184,"r":55.9},{"s":185,"r":50.9},{"s":186,"r":49.9},{"s":187,"r":48.3},{"s":188,"r":46.2},{"s":189,"r":45.7},{"s":190,"r":44.9},{"s":191,"r":39.2},{"s":192,"r":36.8},{"s":193,"r":34.7},{"s":194,"r":32.4},{"s":195,"r":35.2},{"s":196,"r":32.1},{"s":197,"r":42.8},{"s":198,"r":52},{"s":199,"r":47.5},{"s":200,"r":42.5},{"s":201,"r":48.3},{"s":202,"r":53.5},{"s":203,"r":48.8},{"s":204,"r":43.1},{"s":205,"r":50.9},{"s":206,"r":51.2},{"s":207,"r":49.6}]},"mark":{"type":"line","color":"#d8d8c8","strokeWidth":1}},
{"data":{"values":[{"s":0.375,"s2":24.125,"r":20.8,"r2":12.2}]},"mark":{"type":"rect","color":"#d4d4d4","opacity":1},"encoding":{"x2":{"field":"s2"},"y2":{"field":"r2"}}},
{"data":{"values":[{"s":12.25,"r":16.4,"t":"motivewave.com"}]},"mark":{"type":"text","font":"DejaVu Sans","fontWeight":"bold","fontSize":10,"color":"#303030"},"encoding":{"text":{"field":"t"}}},
{"data":{"values":[{"s":0.875,"r":79.6,"t":"RSI(C,14)"}]},"mark":{"type":"text","align":"left","fontWeight":"bold","fontSize":12,"color":"#e8e8d0"},"encoding":{"text":{"field":"t"}}},
{"data":{"values":[{"s":334.875,"s2":342.625,"r":75.5,"r2":64.5},{"s":334.875,"s2":342.625,"r":55.5,"r2":44.5},{"s":334.875,"s2":342.625,"r":35.5,"r2":24.5}]},"mark":{"type":"rect","color":"#ffffff","opacity":1,"cornerRadius":1},"encoding":{"x2":{"field":"s2"},"y2":{"field":"r2"}}},
{"data":{"values":[{"s":334.875,"r":70},{"s":334.875,"r":50},{"s":334.875,"r":30}]},"mark":{"type":"point","shape":"triangle-left","filled":true,"color":"#ffffff","opacity":1,"size":110}},
{"data":{"values":[{"s":333.75,"s2":334,"r":89.06,"r2":10.63}]},"mark":{"type":"rect","color":"#e0e0e0","opacity":1},"encoding":{"x2":{"field":"s2"},"y2":{"field":"r2"}}},
{"data":{"values":[{"s":335,"s2":335.25,"r":89.06,"r2":10.63}]},"mark":{"type":"rect","color":"#7a7a7a","opacity":1},"encoding":{"x2":{"field":"s2"},"y2":{"field":"r2"}}}
]}
]}
